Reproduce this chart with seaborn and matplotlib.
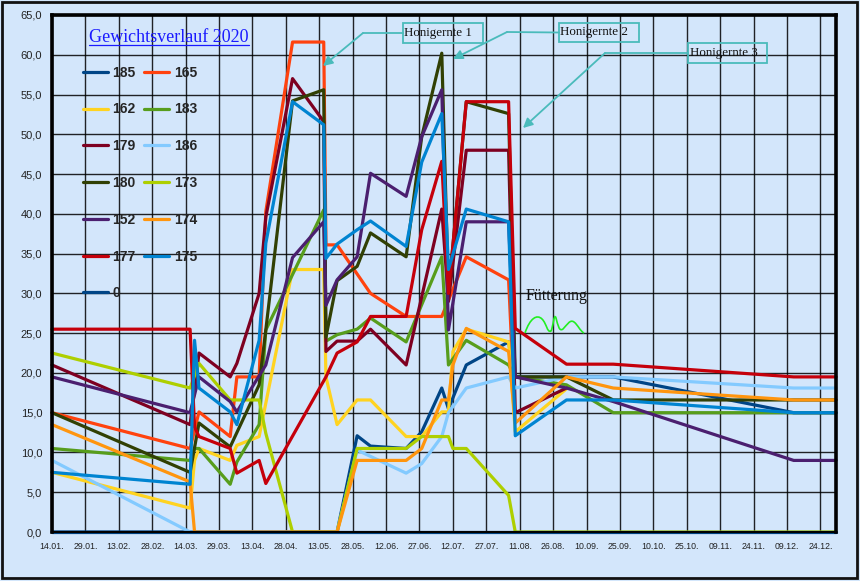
import numpy as np
import pandas as pd
import matplotlib
matplotlib.use("Agg")
import matplotlib.pyplot as plt
import matplotlib.dates as mdates
from matplotlib.patches import Rectangle, FancyArrowPatch, PathPatch
from matplotlib.path import Path
from matplotlib.lines import Line2D
import seaborn as sns

N = None

# Wiegetermine 2020
dates = ["2020-01-14", "2020-03-16", "2020-03-18", "2020-03-20", "2020-04-03",
         "2020-04-06", "2020-04-16", "2020-04-19", "2020-05-01", "2020-05-15",
         "2020-05-16", "2020-05-21", "2020-05-30", "2020-06-05", "2020-06-21",
         "2020-06-28", "2020-07-07", "2020-07-10", "2020-07-12", "2020-07-18",
         "2020-08-06", "2020-08-09", "2020-09-01", "2020-09-22", "2020-12-12",
         "2020-12-31"]

# Gewicht je Volk (kg)
w185 = [0, N, N, N, N, N, N, N, N, N, N, 0, 12.1, 10.8, 10.5, 12.6, 18.1, 15.5, N, 21.0, 23.9, 19.5, 19.5, 19.5, 15.0, 15.0]
w165 = [15.0, 10.5, N, 15.1, 12.0, 19.5, 19.5, 40.3, 61.6, 61.6, 36.1, 36.1, N, 30.0, 27.1, 27.1, 27.1, N, N, 34.6, 31.7, 13.7, N, N, N, N]
w162 = [7.5, 3.0, 9.0, 10.5, 9.0, 10.9, 12.0, N, 33.0, 33.0, 19.5, 13.5, 16.6, 16.6, 12.0, 12.0, 15.1, 15.1, 22.7, 25.5, 23.9, 12.6, 18.0, N, N, N]
w183 = [10.5, 9.0, 10.5, 10.5, 6.0, 8.8, 13.5, 25.4, N, 40.5, 24.0, 24.8, 25.5, 26.9, 23.9, N, 34.6, 21.0, N, 24.1, 21.0, 19.5, 18.5, 15.0, 15.0, 15.0]
w179 = [21.0, 13.5, N, 22.5, 19.5, 21.2, 30.0, 39.6, 57.0, 51.6, 22.7, 24.0, 24.0, 25.5, 21.0, N, 40.6, 29.0, N, 48.0, 48.0, 15.0, 18.1, N, N, N]
w186 = [9.0, 0, N, N, N, N, N, N, N, N, N, 0, 10.3, N, 7.4, 8.6, 12.0, 15.0, N, 18.1, 19.5, 18.1, 19.5, 19.5, 18.1, 18.1]
w180 = [15.0, 7.5, N, 13.7, 10.7, 12.5, 18.5, 25.4, 54.2, 55.6, 24.5, 31.6, 33.4, 37.6, 34.6, 49.7, 60.2, 30.0, N, 54.1, 52.6, 19.5, 19.5, 16.6, 16.6, 16.6]
w173 = [22.5, 18.1, N, 21.2, 16.6, 16.6, 16.6, 12.4, 0, N, N, 0, 10.5, 10.5, 10.5, 12.0, 12.0, 12.0, 10.5, 10.5, 4.6, 0, 0, 0, 0, 0]
w152 = [19.5, 15.0, N, 19.5, 16.4, 15.1, N, 21.0, 34.5, 39.0, 28.5, 31.7, 34.6, 45.1, 42.2, 49.7, 55.6, 25.4, N, 39.0, 39.0, 19.5, 18.1, 16.4, 9.0, 9.0]
w174 = [13.5, 6.3, 0, N, N, N, N, N, N, N, N, 0, 9.0, 9.0, 9.0, 10.5, 16.6, 16.6, 21.0, 25.6, 22.7, 13.7, 19.5, 18.1, 16.6, 16.6]
w177 = [25.5, 25.5, 13.2, 12.0, 10.5, 7.4, 9.0, 6.1, N, N, 19.5, 22.5, 23.9, 27.1, 27.1, 38.0, 46.6, 30.0, N, 54.1, 54.1, 25.6, 21.1, 21.1, 19.5, 19.5]
w175 = [7.5, 6.0, 24.1, 18.1, 15.1, 13.5, 24.1, 36.3, 54.1, 51.2, 34.4, 36.2, 38.0, 39.1, 35.9, 46.5, 52.6, 33.0, N, 40.6, 39.0, 12.1, 16.6, 16.6, 15.0, 15.0]
w0 = [0] + [N] * 24 + [0]

series = {"185": w185, "165": w165, "162": w162, "183": w183, "179": w179,
          "186": w186, "180": w180, "173": w173, "152": w152, "174": w174,
          "177": w177, "175": w175, "0": w0}

colors = {"185": "#004586", "165": "#ff420e", "162": "#ffd320", "183": "#579d1c",
          "179": "#7e0021", "186": "#83caff", "180": "#314004", "173": "#aecf00",
          "152": "#4b1f6f", "174": "#ff950e", "177": "#c5000b", "175": "#0084d1",
          "0": "#004586"}

rows = []
for name, vals in series.items():
    for d, v in zip(dates, vals):
        if v is not None:
            rows.append((name, d, v))
df = pd.DataFrame(rows, columns=["volk", "datum", "gewicht"])
df["datum"] = pd.to_datetime(df["datum"])

sns.set_style("white")
plt.rcParams["font.family"] = ["Liberation Sans", "DejaVu Sans"]

bg = "#d3e6fb"
fig = plt.figure(figsize=(8.6, 5.81), dpi=100, facecolor=bg)
ax = fig.add_axes([52 / 860, 1 - 532 / 581, 784 / 860, 517 / 581])
ax.set_facecolor(bg)

sns.lineplot(data=df, x="datum", y="gewicht", hue="volk", hue_order=list(series.keys()),
             palette=colors, estimator=None, sort=False, lw=2.3, legend=False, ax=ax)
for ln in ax.lines:
    ln.set_clip_on(False)
    ln.set_solid_joinstyle("round")

# Achsen
ax.set_xlim(pd.Timestamp("2020-01-14"), pd.Timestamp("2020-12-31"))
ax.set_ylim(0, 65)
ax.set_xticks(pd.date_range("2020-01-14", "2020-12-31", freq="15D"))
ax.xaxis.set_major_formatter(mdates.DateFormatter("%d.%m."))
ax.set_yticks(np.arange(0, 66, 5))
ax.set_yticklabels([f"{v:.1f}".replace(".", ",") for v in np.arange(0, 66, 5)])
ax.tick_params(axis="x", labelsize=6.3, length=4, width=2.5, direction="out", pad=3, colors="black", labelcolor="#222222")
ax.tick_params(axis="y", labelsize=8, length=5, width=2, direction="out", pad=2, colors="black", labelcolor="#222222")
ax.set_xlabel("")
ax.set_ylabel("")
ax.grid(True, color="black", lw=1.0, alpha=0.85)
ax.set_axisbelow(True)
for side in ["left", "top", "right"]:
    ax.spines[side].set_linewidth(2.6)
    ax.spines[side].set_color("black")
ax.spines["bottom"].set_linewidth(1.5)
ax.spines["bottom"].set_color("black")

# Legende
leg_order = ["185", "162", "179", "180", "152", "177", "0",
             "165", "183", "186", "173", "174", "175"]
handles = [Line2D([], [], color=colors[k], lw=2.3) for k in leg_order]
ax.legend(handles, leg_order, ncol=2, loc="upper left", bbox_to_anchor=(0.039, 0.902),
          frameon=False, borderpad=0, borderaxespad=0, handlelength=1.8,
          handletextpad=0.32, columnspacing=0.65, labelspacing=1.64,
          prop={"family": "Liberation Sans", "weight": "bold", "size": 10})


def px(x, y):
    return (x / 860, 1 - y / 581)


tf = fig.transFigure

# Titel
fig.text(*px(89, 42.5), "Gewichtsverlauf 2020", color="#1a1aff", fontsize=13,
         family="Liberation Serif", va="baseline", ha="left")
fig.add_artist(Line2D([89 / 860, 249 / 860], [1 - 44.5 / 581] * 2, color="#1a1aff", lw=0.9, transform=tf))

# Honigernte
teal = "#4abbbb"
boxes = [("Honigernte 1", (403, 23, 483, 43), (363, 33), (323, 66)),
         ("Honigernte 2", (559, 23, 639, 42), (507, 32), (453, 59)),
         ("Honigernte 3", (688, 43, 767, 63), (605, 53), (523, 128))]
for label, (x0, y0, x1, y1), bend, tip in boxes:
    fig.add_artist(Rectangle(px(x0, y1), (x1 - x0) / 860, (y1 - y0) / 581, fill=False,
                             edgecolor=teal, lw=1.3, transform=tf))
    fig.text(*px(x0 + 1.5, (y0 + y1) / 2), label, fontsize=9.4, family="Liberation Serif",
             color="#111111", va="center", ha="left")
    ymid = (y0 + y1) / 2
    fig.add_artist(Line2D([x0 / 860, bend[0] / 860], [1 - ymid / 581, 1 - bend[1] / 581],
                          color=teal, lw=1.3, transform=tf))
    fig.add_artist(FancyArrowPatch(px(*bend), px(*tip), transform=tf, arrowstyle="-|>",
                                   mutation_scale=14, color=teal, lw=1.3, shrinkA=0, shrinkB=0))

# Fütterung
fig.text(*px(526, 300), "Fütterung", fontsize=11.5, family="Liberation Serif", color="#111111",
         va="baseline", ha="left")
verts = [(525, 333), (530, 318), (537, 314), (542, 319), (547, 324), (547, 333), (551, 331),
         (553, 328), (554, 312), (556, 318), (558, 325), (559, 332), (563, 329),
         (567, 325), (570, 319), (574, 322), (578, 325), (580, 331), (584, 333)]
codes = [Path.MOVETO] + [Path.CURVE4] * (len(verts) - 1)
squiggle = Path([px(*v) for v in verts], codes)
fig.add_artist(PathPatch(squiggle, fill=False, edgecolor="#22ee22", lw=1.2, transform=tf))

# Rahmen
fig.add_artist(Rectangle(px(2, 578), 855 / 860, 576 / 581, fill=False, edgecolor="#111111",
                         lw=2, transform=tf))

fig.savefig("out.png", dpi=100, facecolor=bg)
